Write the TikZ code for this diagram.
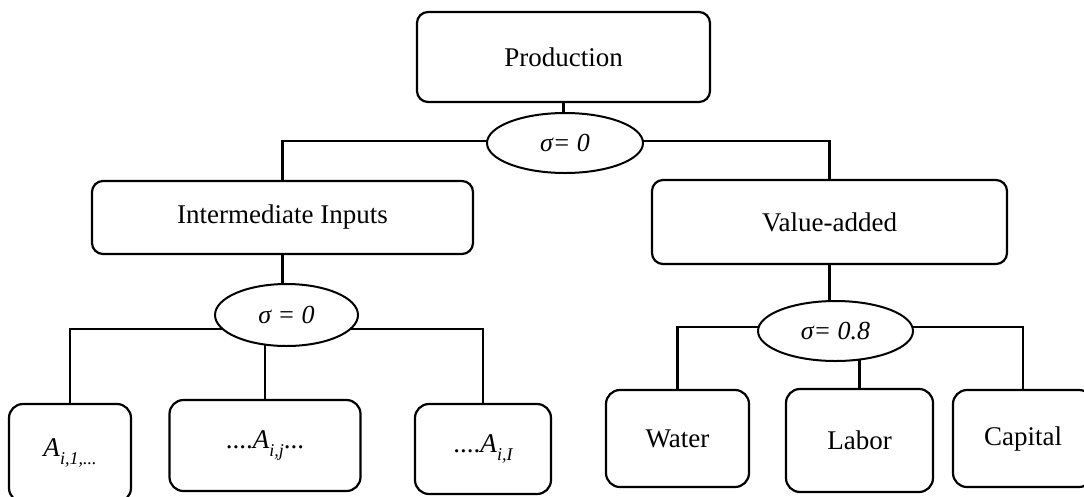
\documentclass[tikz,border=0pt]{standalone}
\usepackage{fontspec}
\setmainfont{Liberation Serif}
\usetikzlibrary{shapes.geometric,backgrounds}
\newcommand{\sbs}[1]{\raisebox{-0.3em}{\fontsize{18}{20}\selectfont\itshape #1}}
\tikzset{
  box/.style={draw, line width=2.2pt, rounded corners=11pt, fill=white, inner sep=0pt,
    font=\fontsize{27}{30}\selectfont},
  lowbox/.style={box, rounded corners=14pt},
  sig/.style={draw, ellipse, line width=2pt, fill=white, inner sep=0pt,
    font=\fontsize{26}{30}\selectfont\itshape},
  conn/.style={line width=2.2pt},
}
\begin{document}
\begin{tikzpicture}[x=1pt,y=-1pt]
\useasboundingbox (0,0) rectangle (1084,496);
\clip (0,0) rectangle (1084,496);
\node[box, minimum width=293pt, minimum height=90pt] (prod) at (563.5,57) {Production};
\node[sig, minimum width=156pt, minimum height=60pt] (s1) at (565,143) {σ= 0};
\node[box, minimum width=381pt, minimum height=73pt] (ii) at (282.5,217.5) {Intermediate Inputs};
\node[box, minimum width=355pt, minimum height=84pt] (va) at (829.5,222) {Value-added};
\node[sig, minimum width=143pt, minimum height=62pt] (s2) at (286.5,315) {σ = 0};
\node[sig, minimum width=155pt, minimum height=60pt] (s3) at (835.5,331) {σ= 0.8};
\node[lowbox, minimum width=122pt, minimum height=98pt] (a1) at (70,453) {\textit{A}\sbs{i,1,...}};
\node[lowbox, minimum width=191pt, minimum height=91pt] (a2) at (265,445.5) {....\textit{A}\sbs{i,j}...};
\node[lowbox, minimum width=136pt, minimum height=90pt] (a3) at (483,449) {....\textit{A}\sbs{i,I}};
\node[lowbox, minimum width=143pt, minimum height=97pt] (water) at (677.5,438.5) {Water};
\node[lowbox, minimum width=147pt, minimum height=103pt] (labor) at (859.5,440.5) {Labor};
\node[lowbox, minimum width=140pt, minimum height=97pt] (capital) at (1023,438.5) {Capital};
\begin{scope}[on background layer]
\draw[conn] (prod.south) -- (prod.south |- s1.center);
\draw[conn] ([yshift=2pt]s1.center) -| (ii.north);
\draw[conn] ([yshift=2pt]s1.center) -| (va.north);
\draw[conn] (ii.south) -- (ii.south |- s2.center);
\draw[conn] ([yshift=-14pt]s2.center) -| (a1.north);
\draw[conn] ([yshift=-14pt]s2.center) -| (a3.north);
\draw[conn] (a2.north) -- (a2.north |- s2.center);
\draw[conn] (va.south) -- (va.south |- s3.center);
\draw[conn] ([yshift=4pt]s3.center) -| (water.north);
\draw[conn] ([yshift=4pt]s3.center) -| (capital.north);
\draw[conn] (labor.north) -- (labor.north |- s3.center);
\end{scope}
\end{tikzpicture}
\end{document}
